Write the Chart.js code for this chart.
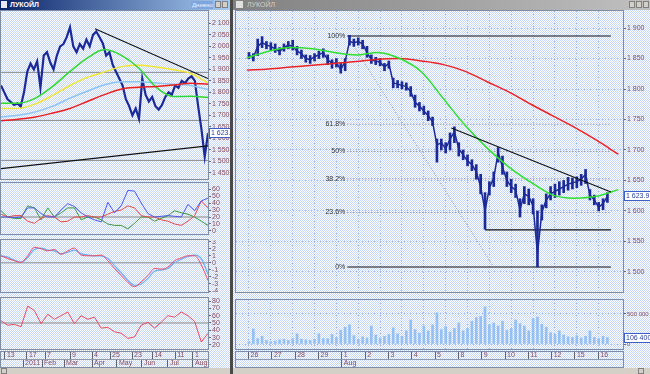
<!DOCTYPE html>
<html lang="ru">
<head>
<meta charset="utf-8">
<title>ЛУКОЙЛ</title>
<script src="https://cdn.jsdelivr.net/npm/chart.js@4.4.0/dist/chart.umd.min.js"></script>
<style>
  body { margin: 0; width: 650px; height: 374px; overflow: hidden; background: #d4d0c8; position: relative; font-family: 'Liberation Sans', Arial, sans-serif; }
  .win { position: absolute; top: 0; height: 374px; background: repeating-conic-gradient(#c6d6f6 0 25%, #ffffff 0 50%) 0 0 / 2px 2px; }
  .title { position: absolute; top: 0; height: 10px; font-size: 7px; line-height: 10px; white-space: nowrap; overflow: hidden; box-sizing: border-box; }
  canvas { position: absolute; }
  .box { position: absolute; border: 1px solid #7f8ca6; box-sizing: border-box; pointer-events: none; }
  .strip { position: absolute; background: #d4d0c8; }
  .btn { position: absolute; top: 1px; width: 6px; height: 7px; background: #d4d0c8; border: 1px solid #808080; box-sizing: border-box; }
</style>
</head>
<body>
<div class="win" style="left:0;width:230px"></div>
<div class="strip" style="left:230px;top:0;width:3px;height:374px;background:#4a4a4a"></div>
<div class="win" style="left:233px;width:417px"></div>

<div class="title" style="left:0;width:230px;background:linear-gradient(90deg,#0a246a,#a6caf0);color:#fff;font-weight:bold;padding-left:10px">ЛУКОЙЛ</div>
<div class="title" style="left:191px;width:22px;top:1px;height:8px;line-height:8px;background:#7fa6dc;color:#eef;font-size:6px;padding-left:1px">Дневной</div>
<div class="btn" style="left:215px"></div><div class="btn" style="left:222px"></div>
<div class="strip" style="left:1px;top:1px;width:6px;height:7px;background:#e8e8f0"></div>

<div class="title" style="left:233px;width:417px;background:linear-gradient(90deg,#808080,#c0c0c0);color:#d4d0c8;padding-left:14px">ЛУКОЙЛ</div>
<div class="strip" style="left:236px;top:1px;width:7px;height:7px;background:#e0e0e0"></div>
<div class="btn" style="left:629px"></div><div class="btn" style="left:636px"></div><div class="btn" style="left:643px"></div>

<canvas id="leftPrice" width="230" height="168" style="left:0;top:11px"></canvas>
<canvas id="leftDmi" width="230" height="51" style="left:0;top:183px"></canvas>
<canvas id="leftMacd" width="230" height="52" style="left:0;top:240px"></canvas>
<canvas id="leftRsi" width="230" height="51" style="left:0;top:298px"></canvas>
<canvas id="leftDates" width="230" height="17" style="left:0;top:350px"></canvas>

<canvas id="rightPrice" width="417" height="281" style="left:233px;top:11px"></canvas>
<canvas id="rightVol" width="417" height="49" style="left:233px;top:300px"></canvas>
<canvas id="rightDates" width="417" height="17" style="left:233px;top:350px"></canvas>

<div class="box" style="left:0;top:10px;width:209px;height:170px"></div>
<div class="box" style="left:0;top:182px;width:209px;height:53px"></div>
<div class="box" style="left:0;top:239px;width:209px;height:54px"></div>
<div class="box" style="left:0;top:297px;width:209px;height:53px"></div>
<div class="box" style="left:0;top:351px;width:209px;height:17px"></div>
<div class="box" style="left:235px;top:10px;width:389px;height:283px"></div>
<div class="box" style="left:235px;top:299px;width:389px;height:51px"></div>
<div class="box" style="left:235px;top:351px;width:389px;height:17px"></div>

<div class="strip" style="left:0;top:368px;width:230px;height:6px"></div>
<div class="strip" style="left:1px;top:368px;width:6px;height:6px;border:1px solid #808080;box-sizing:border-box"></div>
<div class="strip" style="left:233px;top:368px;width:417px;height:6px"></div>
<div class="strip" style="left:638px;top:368px;width:6px;height:6px;border:1px solid #808080;box-sizing:border-box"></div>

<script>
//правое окно: 5 баров на день, первый бар - хвост 25 июля
var rightDays = [ '26', '27', '28', '29', '1', '2', '3', '4', '5', '8', '9', '10', '11', '12', '15', '16' ];
var rightMonths = [ 'Aug' ];
var rightMonthSlots = [ 23 ];
var slotsPerDay = 5;
var firstDaySlot = 3;

var rightClose = [
  1855, 1852, 1870,
  1876, 1872, 1870, 1866, 1862,
  1868, 1872, 1870, 1862, 1858,
  1850, 1848, 1853, 1856, 1860,
  1848, 1842, 1843, 1832, 1845,
  1878, 1876, 1878, 1874, 1860,
  1848, 1846, 1844, 1836, 1842,
  1810, 1808, 1806, 1804, 1796,
  1778, 1772, 1764, 1756, 1746,
  1708, 1712, 1702, 1718, 1730,
  1702, 1692, 1682, 1676, 1664,
  1640, 1600, 1638, 1654, 1696,
  1672, 1650, 1640, 1634, 1602,
  1628, 1624, 1608, 1530, 1598,
  1618, 1628, 1632, 1636, 1640,
  1644, 1646, 1648, 1652, 1660,
  1626, 1618, 1606, 1612, 1623.9
];
var rightHigh = [
  1860, 1858, 1882,
  1886, 1878, 1876, 1874, 1868,
  1874, 1878, 1880, 1870, 1864,
  1856, 1855, 1858, 1862, 1866,
  1856, 1848, 1850, 1842, 1850,
  1888, 1882, 1884, 1880, 1870,
  1856, 1852, 1850, 1842, 1846,
  1818, 1814, 1812, 1810, 1804,
  1790, 1778, 1772, 1764, 1754,
  1718, 1718, 1712, 1728, 1738,
  1712, 1700, 1692, 1684, 1676,
  1660, 1630, 1648, 1664, 1704,
  1690, 1664, 1652, 1644, 1620,
  1640, 1636, 1620, 1600, 1610,
  1628, 1640, 1644, 1648, 1650,
  1655, 1654, 1656, 1660, 1668,
  1635, 1626, 1614, 1620, 1630
];
var rightLow = [
  1850, 1846, 1855,
  1868, 1866, 1864, 1860, 1856,
  1862, 1866, 1864, 1856, 1850,
  1844, 1842, 1846, 1850, 1852,
  1840, 1834, 1836, 1826, 1830,
  1872, 1870, 1872, 1866, 1852,
  1842, 1840, 1838, 1830, 1834,
  1802, 1802, 1800, 1798, 1788,
  1770, 1764, 1758, 1748, 1740,
  1680, 1700, 1695, 1700, 1712,
  1690, 1684, 1674, 1666, 1652,
  1628, 1570, 1626, 1640, 1680,
  1660, 1640, 1630, 1622, 1590,
  1612, 1610, 1595, 1508, 1585,
  1605, 1618, 1622, 1626, 1630,
  1634, 1636, 1638, 1642, 1645,
  1618, 1610, 1600, 1602, 1614
];
//объём, тыс. акций
var rightVolume = [
  40, 250, 90,
  130, 60, 40, 50, 70,
  80, 60, 90, 170, 80,
  70, 60, 80, 170, 90,
  90, 160, 110, 230, 280,
  320, 140, 80, 120, 100,
  300, 150, 100, 130, 160,
  270, 170, 130, 220, 400,
  240, 180, 300, 220, 320,
  520, 240, 290, 200, 260,
  350, 220, 260, 380, 440,
  460, 620, 320, 350, 300,
  380, 230, 260, 400, 340,
  300, 220, 420, 450, 330,
  280, 190, 160, 220, 150,
  120, 110, 140, 100, 130,
  220, 110, 90, 130, 106.4
];
//скользящие средние, по значению на начало дня
var rightMaFast = [ 1851, 1862, 1868, 1866, 1860, 1856, 1860, 1850, 1828, 1784, 1740, 1703, 1672, 1647, 1626, 1621, 1624, 1635 ];
var rightMaSlow = [ 1831, 1833, 1836, 1839, 1842, 1845, 1849, 1850, 1846, 1840, 1829, 1812, 1795, 1775, 1756, 1737, 1716, 1693 ];
var rightPriceTicks = [ 1500, 1550, 1600, 1650, 1700, 1750, 1800, 1850, 1900 ];
var rightVolumeTicks = [ 0, 500 ];

//фибоначчи и линии
var fibTop = 1887;
var fibBottom = 1508;
var fibStartSlot = 23;
var fibRatios = [ 1, 0.618, 0.5, 0.382, 0.236, 0 ];
var fibLabels = [ '100%', '61.8%', '50%', '38.2%', '23.6%', '0%' ];
var fanX = [ 23, 56.5 ];
var fanY = [ 1887, 1508 ];
var trendX = [ 46.8, 83.3 ];
var trendY = [ 1736, 1631 ];
var supportX = [ 54.5, 83.3 ];
var supportY = [ 1569, 1569 ];
var lastPrice = 1623.9;
var lastVolume = 106.4;

//левое окно: дневки
var leftClose = [
  1830, 1800, 1770, 1758, 1745, 1752, 1738, 1800, 1890, 1925, 1900, 1935, 1820, 1960, 1975, 1930,
  1900, 1960, 2000, 2010, 2040, 2083, 2000, 1975, 2010, 1990, 2030, 2000, 2050, 2065, 2040, 2013,
  1960, 1975, 1920, 1890, 1860, 1830, 1770, 1740, 1700, 1730, 1685, 1860, 1790, 1760, 1780, 1740,
  1725, 1745, 1780, 1800, 1790, 1830, 1820, 1850, 1840, 1860, 1870, 1850, 1740, 1640, 1520, 1622
];
var leftMaGreen = [ 1753, 1753, 1775, 1826, 1891, 1949, 1986, 1960, 1905, 1822, 1782, 1783, 1778 ];
var leftMaYellow = [ 1730, 1730, 1750, 1787, 1830, 1865, 1889, 1912, 1918, 1910, 1898, 1882, 1840 ];
var leftMaBlue = [ 1693, 1700, 1715, 1740, 1775, 1805, 1833, 1846, 1846, 1841, 1835, 1830, 1812 ];
var leftMaRed = [ 1676, 1683, 1693, 1710, 1730, 1760, 1790, 1815, 1822, 1826, 1832, 1840, 1835 ];
var leftLevels = [ 1887, 1678, 1504 ];
var leftTrendTopX = [ 28.6, 63 ];
var leftTrendTopY = [ 2077, 1860 ];
var leftTrendLowX = [ 0, 63 ];
var leftTrendLowY = [ 1468, 1567 ];
var leftPriceTicks = [ 1450, 1500, 1550, 1600, 1650, 1700, 1750, 1800, 1850, 1900, 1950, 2000, 2050, 2100 ];

var dmiBlue = [ 20, 20, 19, 20, 33, 33, 25, 20, 20, 30, 39, 35, 26, 20, 16, 13, 41, 26, 36, 58, 57, 40, 25, 20, 21, 22, 21, 20, 38, 29, 43, 47 ];
var dmiRed = [ 24, 20, 22, 22, 14, 11, 18, 22, 20, 13, 14, 20, 20, 22, 20, 20, 24, 28, 30, 36, 33, 22, 20, 20, 16, 14, 10, 8, 14, 22, 43, 33 ];
var dmiGreen = [ 29, 20, 18, 18, 36, 33, 16, 33, 20, 26, 33, 33, 16, 20, 20, 16, 10, 8, 8, 3, 11, 20, 20, 14, 18, 22, 29, 26, 24, 20, 14, 8 ];
var dmiTicks = [ 0, 10, 20, 30, 40, 50, 60 ];
var macdMain = [ 1, 0.6, 0.3, 0.05, 1, 2.2, 2, 1.7, 1.9, 1.2, 1.7, 2.1, 1.1, 1, 1, 1.1, 0.3, -0.8, -1.8, -2.8, -3.4, -2.7, -1.8, -0.8, -0.9, -0.6, 0.3, 0.7, 1, 1, -0.3, -2.5 ];
var macdSignal = [ 1, 0.8, 0.4, 0.1, 0.8, 1.9, 2.1, 1.8, 1.7, 1.3, 1.5, 1.8, 1.3, 1.1, 1, 1, 0.6, -0.4, -1.4, -2.5, -3.2, -3, -2.2, -1.2, -1, -0.8, 0, 0.5, 0.9, 1.1, 0.6, -1.6 ];
var macdTicks = [ -4, -3, -2, -1, 0, 1, 2, 3 ];
var rsiLine = [ 53, 47, 48, 45, 73, 67, 49, 62, 55, 60, 65, 49, 60, 55, 58, 43, 44, 38, 36, 29, 31, 47, 51, 43, 51, 60, 58, 65, 60, 52, 24, 36 ];
var rsiTicks = [ 20, 30, 40, 50, 60, 70, 80 ];

var leftDayLabels = [ '13', '17', '7', '9', '4', '25', '23', '14', '11', '1' ];
var leftDayPos = [ 1.2, 7.9, 13.4, 21, 27.7, 33.2, 39.9, 46, 53, 58.4 ];
var leftMonthLabels = [ '2011', 'Feb', 'Mar', 'Apr', 'May', 'Jun', 'Jul', 'Aug' ];
var leftMonthPos = [ 6.7, 12.5, 19.2, 27.7, 35.3, 42.9, 50.8, 58.4 ];

Chart.defaults.font.family = "'Liberation Sans', Arial, sans-serif";
Chart.defaults.font.size = 7;
Chart.defaults.animation = false;
Chart.defaults.plugins.legend.display = false;
Chart.defaults.plugins.tooltip.enabled = false;

var tickColor = '#844a5c';
var gridColor = '#9db8e8';
var leftMax = leftClose.length - 1;
var rightMin = 0.3;
var rightMax = 83.3;

function miles( v )
{
  return String( v ).replace( /\B(?=(\d{3})+(?!\d))/g, ' ' );
}

//равномерно по оси x
function spread( values, from, to )
{
  return values.map( ( v, i ) => ( { x: from + i * ( to - from ) / ( values.length - 1 ), y: v } ) );
}

function pairs( xs, ys )
{
  return xs.map( ( x, i ) => ( { x: x, y: ys[ i ] } ) );
}

function line( data, color, width, extra )
{
  return Object.assign( { type: 'line', data: data, borderColor: color, borderWidth: width, pointRadius: 0, tension: 0 }, extra || {} );
}

function yAxis( ticks, min, max, width, fmt, grid, fontSize )
{
  return {
    position: 'right', min: min, max: max,
    afterBuildTicks: s => { s.ticks = ticks.map( v => ( { value: v } ) ); },
    afterFit: s => { s.width = width; s.paddingTop = 0; s.paddingBottom = 0; },
    ticks: { color: tickColor, padding: 1, autoSkip: false, font: { size: fontSize || 7 }, callback: fmt || ( v => miles( v ) ) },
    grid: { drawOnChartArea: !!grid, color: gridColor, tickColor: '#6a6a7a', tickLength: 3 },
    border: { display: false, dash: grid ? [ 1, 2 ] : [] }
  };
}

function hiddenX( min, max, gridTicks )
{
  return {
    type: 'linear', min: min, max: max, display: !!gridTicks,
    afterBuildTicks: s => { if ( gridTicks ) s.ticks = gridTicks.map( v => ( { value: v } ) ); },
    afterFit: s => { s.height = 0; s.paddingLeft = 0; s.paddingRight = 0; },
    ticks: { display: false },
    grid: { drawTicks: false, color: gridColor },
    border: { display: false, dash: [ 1, 2 ] }
  };
}

var tagPlugin =
{
  id: 'tag',
  afterDraw: function ( chart, args, opts )
  {
    if ( !opts.text ) return;
    var ctx = chart.ctx;
    var y = Math.round( chart.scales.y.getPixelForValue( opts.value ) );
    var x = chart.chartArea.right + 1;
    ctx.save();
    ctx.font = "7px 'Liberation Sans', Arial";
    var w = Math.ceil( ctx.measureText( opts.text ).width ) + 4;
    ctx.fillStyle = '#ffffff';
    ctx.fillRect( x, y - 5, w, 10 );
    ctx.strokeStyle = '#3c5fc8';
    ctx.strokeRect( x + 0.5, y - 4.5, w - 1, 9 );
    ctx.fillStyle = '#2a3f99';
    ctx.textBaseline = 'middle';
    ctx.fillText( opts.text, x + 2, y + 0.5 );
    ctx.restore();
  }
};

var fibPlugin =
{
  id: 'fib',
  afterDatasetsDraw: function ( chart )
  {
    var ctx = chart.ctx;
    var x = chart.scales.x.getPixelForValue( fibStartSlot ) - 2;
    ctx.save();
    ctx.font = "7px 'Liberation Sans', Arial";
    ctx.fillStyle = '#333333';
    ctx.textAlign = 'right';
    ctx.textBaseline = 'middle';
    fibRatios.forEach( ( r, i ) =>
    {
      ctx.fillText( fibLabels[ i ], x, chart.scales.y.getPixelForValue( fibBottom + r * ( fibTop - fibBottom ) ) );
    });
    ctx.restore();
  }
};

//---------- левое окно ----------
var leftDatasets = [
  line( pairs( leftTrendTopX, leftTrendTopY ), '#111111', 1.2, { order: 0 } ),
  line( pairs( leftTrendLowX, leftTrendLowY ), '#111111', 1.2, { order: 0 } ),
  line( spread( leftMaRed, 0, leftMax ), '#e82020', 1.5, { order: 1, cubicInterpolationMode: 'monotone' } ),
  line( spread( leftMaGreen, 0, leftMax ), '#2ed82e', 1.5, { order: 1, cubicInterpolationMode: 'monotone' } ),
  line( spread( leftMaYellow, 0, leftMax ), '#f2e633', 1.5, { order: 1, cubicInterpolationMode: 'monotone' } ),
  line( spread( leftMaBlue, 0, leftMax ), '#8cc4f4', 1.5, { order: 1, cubicInterpolationMode: 'monotone' } ),
  line( spread( leftClose, 0, leftMax ), '#1b2a96', 2.2, { order: 2 } )
];
leftLevels.forEach( lv =>
{
  leftDatasets.push( line( pairs( [ 0, leftMax ], [ lv, lv ] ), '#8a8a8a', 1, { order: 3 } ) );
});

new Chart( document.getElementById( 'leftPrice' ),
{
  type: 'line',
  data: { datasets: leftDatasets },
  options:
  {
    responsive: false,
    layout: { padding: { left: 1 } },
    scales: { x: hiddenX( 0, leftMax ), y: yAxis( leftPriceTicks, 1423, 2154, 22 ) },
    plugins: { tag: { value: lastPrice, text: miles( lastPrice.toFixed( 1 ) ) } }
  },
  plugins: [ tagPlugin ]
});

function smallPanel( id, datasets, ticks, min, max, refLevel )
{
  datasets.push( line( pairs( [ 0, leftMax ], [ refLevel, refLevel ] ), '#8a8a8a', 1, { order: 5 } ) );
  new Chart( document.getElementById( id ),
  {
    type: 'line',
    data: { datasets: datasets },
    options:
    {
      responsive: false,
      layout: { padding: { left: 1 } },
      scales: { x: hiddenX( 0, leftMax ), y: yAxis( ticks, min, max, 22 ) }
    }
  });
}

smallPanel( 'leftDmi', [
  line( spread( dmiBlue, 0, leftMax ), '#4a58e8', 1, { order: 1 } ),
  line( spread( dmiRed, 0, leftMax ), '#e84848', 1, { order: 2 } ),
  line( spread( dmiGreen, 0, leftMax ), '#3a9a3a', 1, { order: 3 } )
], dmiTicks, -4.3, 68.6, 20 );

smallPanel( 'leftMacd', [
  line( spread( macdMain, 0, leftMax ), '#f04a64', 1, { order: 1, cubicInterpolationMode: 'monotone' } ),
  line( spread( macdSignal, 0, leftMax ), '#6aaef2', 1.2, { order: 2, cubicInterpolationMode: 'monotone' } )
], macdTicks, -4.14, 3.24, 0 );

smallPanel( 'leftRsi', [
  line( spread( rsiLine, 0, leftMax ), '#e84a5a', 1, { order: 1 } )
], rsiTicks, 14.5, 84.1, 50 );

//шкала дат: два ряда
function dateChart( id, min, max, padLeft, padRight, dayPos, dayLab, monPos, monLab )
{
  var row = ( pos, lab, weight ) => ( {
    type: 'linear', position: 'bottom', min: min, max: max, weight: weight,
    afterBuildTicks: s => { s.ticks = pos.map( v => ( { value: v } ) ); },
    afterFit: s => { s.height = 8; s.paddingLeft = 0; s.paddingRight = 0; },
    ticks: { autoSkip: false, maxRotation: 0, align: 'start', labelOffset: 2, padding: -8, color: tickColor, callback: ( v, i ) => lab[ i ] },
    grid: { drawOnChartArea: false, tickLength: 8, color: '#5d6373' },
    border: { display: true, color: '#8f9ab0' }
  } );

  new Chart( document.getElementById( id ),
  {
    type: 'line',
    data: { datasets: [] },
    options:
    {
      responsive: false,
      layout: { padding: { left: padLeft, right: padRight } },
      scales: { x: row( dayPos, dayLab, 0 ), x2: row( monPos, monLab, 1 ), y: { display: false } }
    }
  });
}

dateChart( 'leftDates', 0, leftMax, 1, 22, leftDayPos, leftDayLabels, leftMonthPos, leftMonthLabels );

//---------- правое окно ----------
var dayStarts = rightDays.map( ( d, k ) => firstDaySlot + k * slotsPerDay );

var rightDatasets = [
  line( pairs( trendX, trendY ), '#111111', 1.2, { order: 0 } ),
  line( spread( rightMaFast, 0, ( rightMaFast.length - 1 ) * slotsPerDay ), '#2ee02e', 1.5, { order: 1, cubicInterpolationMode: 'monotone' } ),
  line( spread( rightMaSlow, 0, ( rightMaSlow.length - 1 ) * slotsPerDay ), '#ea2424', 1.5, { order: 1, cubicInterpolationMode: 'monotone' } ),
  line( rightClose.map( ( c, i ) => ( { x: i + 0.5, y: c } ) ), '#1b2a96', 1.5, { order: 2 } ),
  {
    type: 'bar',
    data: rightClose.map( ( c, i ) => ( { x: i + 0.5, y: [ rightLow[ i ], rightHigh[ i ] ] } ) ),
    backgroundColor: '#1b2a96', barThickness: 2, grouped: false, order: 2
  },
  line( pairs( supportX, supportY ), '#111111', 1.2, { order: 3 } ),
  line( pairs( fanX, fanY ), '#8a8a9a', 1, { order: 4, borderDash: [ 1, 2 ] } )
];
fibRatios.forEach( r =>
{
  var lv = fibBottom + r * ( fibTop - fibBottom );
  var solid = ( r === 0 || r === 1 );
  rightDatasets.push( line( pairs( [ fibStartSlot, rightMax ], [ lv, lv ] ), solid ? '#111111' : '#7a7a8a', solid ? 1.2 : 1, { order: 4, borderDash: solid ? [] : [ 1, 2 ] } ) );
});

new Chart( document.getElementById( 'rightPrice' ),
{
  type: 'line',
  data: { datasets: rightDatasets },
  options:
  {
    responsive: false,
    layout: { padding: { left: 3 } },
    scales: { x: hiddenX( rightMin, rightMax, dayStarts ), y: yAxis( rightPriceTicks, 1467, 1928, 27, null, true ) },
    plugins: { tag: { value: lastPrice, text: miles( lastPrice.toFixed( 1 ) ) } }
  },
  plugins: [ tagPlugin, fibPlugin ]
});

new Chart( document.getElementById( 'rightVol' ),
{
  type: 'bar',
  data:
  {
    datasets: [ {
      data: rightVolume.map( ( v, i ) => ( { x: i + 0.5, y: v } ) ),
      backgroundColor: '#94c0f2', barThickness: 2
    } ]
  },
  options:
  {
    responsive: false,
    layout: { padding: { left: 3 } },
    scales:
    {
      x: hiddenX( rightMin, rightMax, dayStarts ),
      y: yAxis( rightVolumeTicks, -83, 733, 27, v => miles( v * 1000 ), true, 6 )
    },
    plugins: { tag: { value: lastVolume, text: miles( Math.round( lastVolume * 1000 ) ) } }
  },
  plugins: [ tagPlugin ]
});

dateChart( 'rightDates', rightMin, rightMax, 3, 27, dayStarts, rightDays, rightMonthSlots, rightMonths );
</script>
</body>
</html>
